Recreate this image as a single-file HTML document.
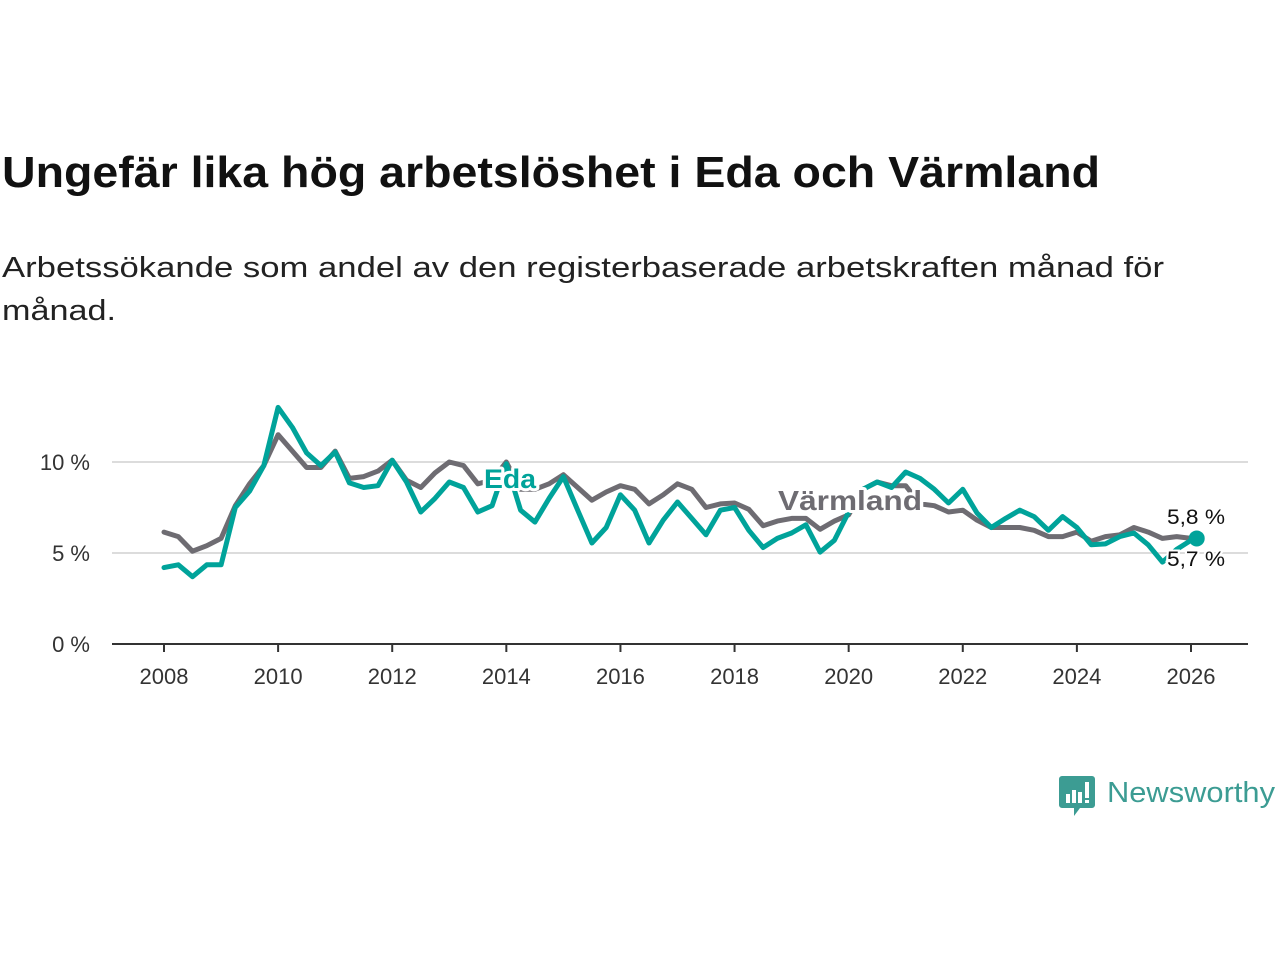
<!DOCTYPE html>
<html><head><meta charset="utf-8"><style>
body{margin:0;background:#fff;}
svg{display:block;font-family:"Liberation Sans",sans-serif;}
</style></head><body>
<svg id="chart" width="1280" height="960" viewBox="0 0 1280 960">
<text x="2" y="187" font-size="44" font-weight="bold" fill="#111" textLength="1098" lengthAdjust="spacingAndGlyphs">Ungefär lika hög arbetslöshet i Eda och Värmland</text>
<text x="2" y="277" font-size="29" fill="#222" textLength="1162" lengthAdjust="spacingAndGlyphs">Arbetssökande som andel av den registerbaserade arbetskraften månad för</text>
<text x="2" y="320" font-size="29" fill="#222" textLength="114" lengthAdjust="spacingAndGlyphs">månad.</text>
<g id="grid"></g><g id="axes"></g><g id="series"></g><g id="labels"></g>
<g transform="translate(1060,776)">
<path d="M2 0h30a3 3 0 0 1 3 3v26a3 3 0 0 1-3 3H20l-6 8v-8H2a3 3 0 0 1-3-3V3a3 3 0 0 1 3-3z" fill="#3c9c93"/>
<rect x="6" y="18" width="4" height="9" fill="#fff"/><rect x="12" y="14" width="4" height="13" fill="#fff"/><rect x="18" y="16" width="4" height="11" fill="#fff"/><rect x="25" y="6" width="4" height="16" fill="#fff"/><rect x="25" y="24" width="4" height="3" fill="#fff"/>
<text x="47" y="26" font-size="29" fill="#3c9c93" textLength="168" lengthAdjust="spacingAndGlyphs">Newsworthy</text>
</g>
</svg>
<script>
const years=[2008,2010,2012,2014,2016,2018,2020,2022,2024,2026];
const yTicks=[0,5,10];
const yTickLabels=["0 %","5 %","10 %"];
const startYear=2008;
const varmland=[6.15,5.9,5.1,5.4,5.8,7.6,8.8,9.8,11.5,10.6,9.7,9.7,10.6,9.1,9.2,9.5,10.1,9.0,8.6,9.4,10.0,9.8,8.8,9.0,10.0,8.5,8.5,8.8,9.3,8.6,7.9,8.35,8.7,8.5,7.7,8.2,8.8,8.5,7.5,7.7,7.75,7.4,6.5,6.75,6.9,6.9,6.3,6.75,7.1,8.5,8.9,8.7,8.7,7.7,7.6,7.25,7.35,6.8,6.4,6.4,6.4,6.25,5.9,5.9,6.15,5.65,5.9,6.0,6.4,6.15,5.8,5.9,5.8,5.8];
const eda=[4.2,4.35,3.7,4.35,4.35,7.5,8.4,9.8,13.0,11.9,10.5,9.8,10.55,8.85,8.6,8.7,10.1,8.9,7.25,8.0,8.9,8.6,7.25,7.6,9.9,7.35,6.7,8.0,9.2,7.35,5.55,6.4,8.2,7.35,5.55,6.8,7.8,6.9,6.0,7.35,7.5,6.25,5.3,5.8,6.1,6.55,5.05,5.7,7.25,8.5,8.9,8.6,9.45,9.1,8.5,7.75,8.5,7.2,6.4,6.9,7.35,7.0,6.25,7.0,6.4,5.45,5.5,5.9,6.1,5.45,4.5,5.2,5.7,5.8];
const x0=164,x1=1191,yBase=644,pxPer=18.2;
const xs=t=>x0+(t-startYear)*(x1-x0)/18;
const ys=v=>yBase-v*pxPer;
const NS="http://www.w3.org/2000/svg";
function mk(tag,parent){const e=document.createElementNS(NS,tag);document.getElementById(parent).appendChild(e);return e;}
yTicks.forEach((v,i)=>{
 if(v>0){const l=mk('line','grid');
 
 
 l.setAttribute('x1',112);l.setAttribute('x2',1248);l.setAttribute('y1',ys(v));l.setAttribute('y2',ys(v));l.setAttribute('stroke','#dcdcdc');l.setAttribute('stroke-width',2);}
 const t=mk('text','axes');
 
 
 t.setAttribute('x',90);t.setAttribute('y',ys(v)+8);t.setAttribute('text-anchor','end');t.setAttribute('font-size',22);t.setAttribute('fill','#333');t.textContent=yTickLabels[i];
});
const ax=mk('line','axes');


ax.setAttribute('x1',112);ax.setAttribute('x2',1248);ax.setAttribute('y1',644);ax.setAttribute('y2',644);ax.setAttribute('stroke','#333');ax.setAttribute('stroke-width',2);
years.forEach(y=>{
 const tk=mk('line','axes');
 
 
 tk.setAttribute('x1',xs(y));tk.setAttribute('x2',xs(y));tk.setAttribute('y1',644);tk.setAttribute('y2',652);tk.setAttribute('stroke','#333');tk.setAttribute('stroke-width',2);
 const t=mk('text','axes');
 
 
 t.setAttribute('x',xs(y));t.setAttribute('y',684);t.setAttribute('text-anchor','middle');t.setAttribute('font-size',22);t.setAttribute('fill','#333');t.textContent=y;
});
function line(vals,color,name){
 const p=mk('polyline','series');
 
 
 const last=vals.length-1;
 p.setAttribute('points',vals.map((v,i)=>{const t=i===last?startYear+18.1:startYear+i*0.25;return xs(t).toFixed(1)+','+ys(v).toFixed(1);}).join(' '));
 p.setAttribute('fill','none');p.setAttribute('stroke',color);p.setAttribute('stroke-width',5);p.setAttribute('stroke-linejoin','round');p.setAttribute('stroke-linecap','round');
}
line(varmland,'#6e6c72','varmland-line');
line(eda,'#00a39a','eda-line');
const dot=mk('circle','series');


dot.setAttribute('cx',xs(startYear+18.1));dot.setAttribute('cy',ys(eda[eda.length-1]));dot.setAttribute('r',8);dot.setAttribute('fill','#00a39a');
function lab(txt,x,y,size,color,bold,name,len){
 const t=mk('text','labels');
 
 
 t.setAttribute('x',x);t.setAttribute('y',y);t.setAttribute('font-size',size);t.setAttribute('fill',color);
 if(len){t.setAttribute('textLength',len);t.setAttribute('lengthAdjust','spacingAndGlyphs');}
 if(bold){t.setAttribute('font-weight','bold');t.setAttribute('stroke','#fff');t.setAttribute('stroke-width',6);t.setAttribute('paint-order','stroke');t.setAttribute('stroke-linejoin','round');}
 else{t.setAttribute('stroke','#fff');t.setAttribute('stroke-width',4);t.setAttribute('paint-order','stroke');}
 t.textContent=txt;
}
lab('Eda',484,488,27,'#00a39a',true,'eda-series-label',52);
lab('Värmland',778,510,28,'#6e6c72',true,'varmland-series-label',144);
lab('5,8 %',1167,524,21,'#111',false,'varmland-end-value',58);
lab('5,7 %',1167,566,21,'#111',false,'eda-end-value',58);
</script>
</body></html>
